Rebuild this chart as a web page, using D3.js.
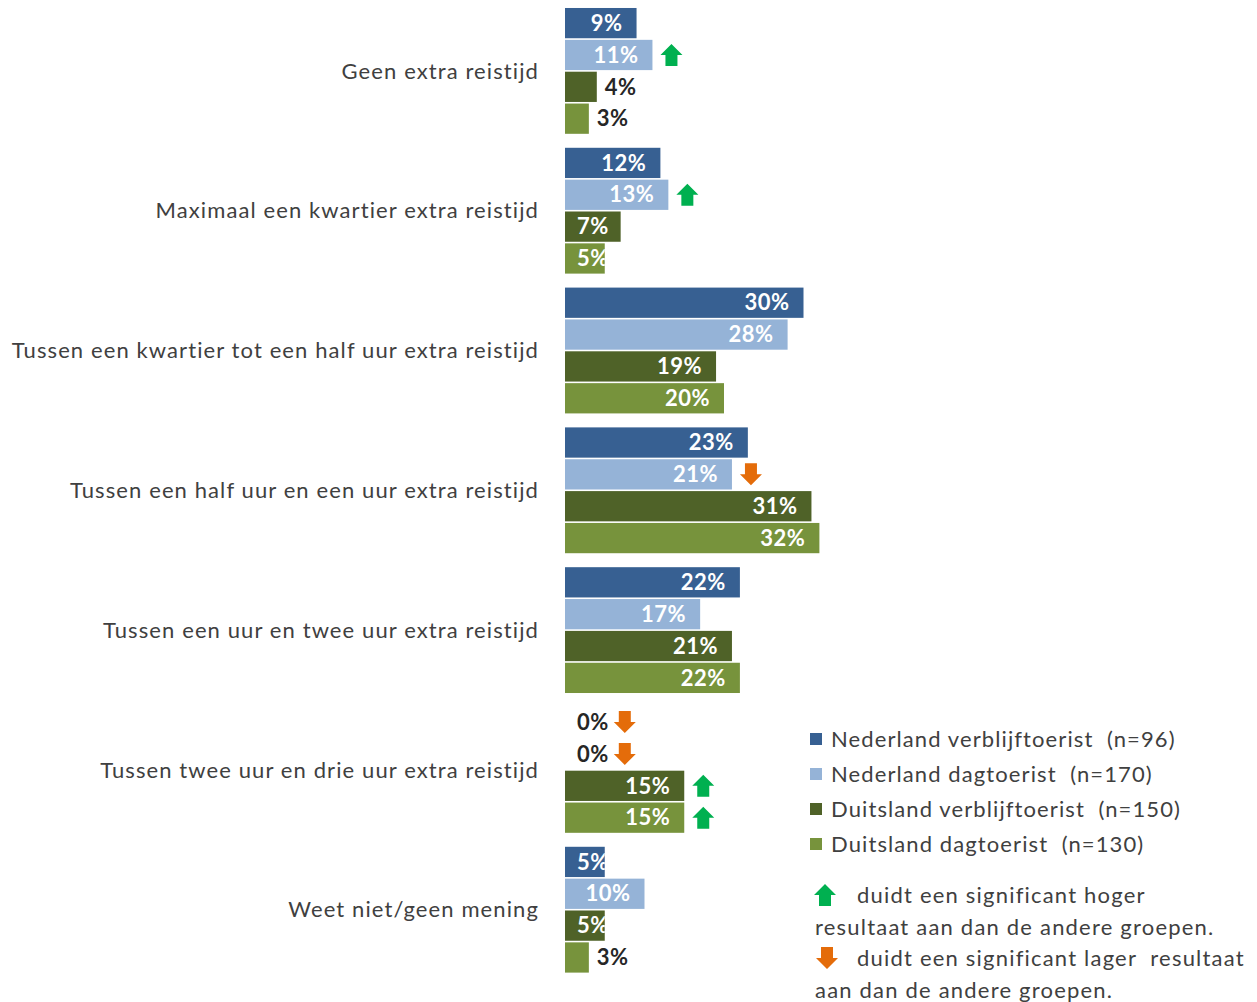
<!DOCTYPE html>
<html><head><meta charset="utf-8">
<script src="https://cdn.jsdelivr.net/npm/d3@7/dist/d3.min.js"></script>
<style>
html,body{margin:0;padding:0;background:#fff;}
svg{display:block;}
text{white-space:pre;}
</style></head>
<body><svg id="chart" width="1257" height="1002"></svg>
<script>
const categories = [
  "Geen extra reistijd",
  "Maximaal een kwartier extra reistijd",
  "Tussen een kwartier tot een half uur extra reistijd",
  "Tussen een half uur en een uur extra reistijd",
  "Tussen een uur en twee uur extra reistijd",
  "Tussen twee uur en drie uur extra reistijd",
  "Weet niet/geen mening"
];
const seriesNames = [
  "Nederland verblijftoerist  (n=96)",
  "Nederland dagtoerist  (n=170)",
  "Duitsland verblijftoerist  (n=150)",
  "Duitsland dagtoerist  (n=130)"
];
const nlVerblijf = [9, 12, 30, 23, 22, 0, 5];
const nlDag      = [11, 13, 28, 21, 17, 0, 10];
const deVerblijf = [4, 7, 19, 31, 21, 15, 5];
const deDag      = [3, 5, 20, 32, 22, 15, 3];
// significance: 1 = significantly higher, -1 = significantly lower, 0 = none
const sigNlVerblijf = [0, 0, 0, 0, 0, -1, 0];
const sigNlDag      = [1, 1, 0, -1, 0, -1, 0];
const sigDeVerblijf = [0, 0, 0, 0, 0, 1, 0];
const sigDeDag      = [0, 0, 0, 0, 0, 1, 0];
const noteLines = [
  "duidt een significant hoger",
  "resultaat aan dan de andere groepen.",
  "duidt een significant lager  resultaat",
  "aan dan de andere groepen."
];

const seriesValues = [nlVerblijf, nlDag, deVerblijf, deDag];
const seriesSig = [sigNlVerblijf, sigNlDag, sigDeVerblijf, sigDeDag];
const colors = ["#376092", "#95B3D7", "#4F6228", "#77933C"];
const UP = "#00B050", DOWN = "#E46C0A";
const FONT = "Lato, 'Open Sans', sans-serif";
const TXT = "#404040";

const svg = d3.select("#chart");
const x = d3.scaleLinear().domain([0, 35]).range([565, 565 + 35 * 7.95]);
const y0 = d3.scaleBand().domain(categories).range([1, 979.6]).paddingInner(0.1).paddingOuter(0.05);
const y1 = d3.scaleBand().domain(d3.range(4)).range([0, y0.bandwidth()]).paddingInner(0.05);

function arrowPath(cx, cy, dir) {
  const hw = 11, sw = 6;
  if (dir > 0) {
    return `M${cx},${cy-11} L${cx+hw},${cy} L${cx+sw},${cy} L${cx+sw},${cy+11} L${cx-sw},${cy+11} L${cx-sw},${cy} L${cx-hw},${cy} Z`;
  }
  return `M${cx},${cy+11} L${cx+hw},${cy} L${cx+sw},${cy} L${cx+sw},${cy-11} L${cx-sw},${cy-11} L${cx-sw},${cy} L${cx-hw},${cy} Z`;
}

const data = [];
categories.forEach((c, ci) => {
  seriesValues.forEach((arr, si) => {
    data.push({cat: c, ci, si, v: arr[ci], sig: seriesSig[si][ci]});
  });
});

// category labels
svg.append("g").selectAll("text").data(categories).join("text")
  .attr("x", 539)
  .attr("y", d => y0(d) + y0.bandwidth() / 2)
  .attr("dy", "0.35em")
  .attr("text-anchor", "end")
  .attr("font-family", FONT)
  .attr("font-size", 22)
  .attr("letter-spacing", 1.1)
  .attr("fill", TXT)
  .text(d => d);

const groups = svg.append("g").selectAll("g").data(data).join("g")
  .attr("transform", d => `translate(0,${y0(d.cat) + y1(d.si)})`);

groups.append("rect")
  .attr("x", x(0))
  .attr("y", 0)
  .attr("width", d => x(d.v) - x(0))
  .attr("height", y1.bandwidth())
  .attr("fill", d => colors[d.si]);

const clipDefs = svg.append("defs");
data.forEach((d, i) => {
  clipDefs.append("clipPath").attr("id", "clip" + i)
    .append("rect").attr("x", x(0)).attr("y", 0)
    .attr("width", x(d.v) - x(0)).attr("height", y1.bandwidth());
});

groups.each(function(d, i) {
  const g = d3.select(this);
  const cy = y1.bandwidth() / 2;
  const inside = d.v >= 5;
  const t = g.append("text")
    .attr("y", cy)
    .attr("dy", "0.35em")
    .attr("font-family", FONT)
    .attr("font-weight", "bold")
    .attr("font-size", 22)
    .attr("letter-spacing", 0.5)
    .attr("fill", inside ? "#fff" : "#262626")
    .text(d.v + "%");
  const w = t.node().getComputedTextLength();
  let labelEnd;
  if (inside) {
    const start = Math.max(x(0) + 12, x(d.v) - 14 - w);
    t.attr("x", start).attr("clip-path", `url(#clip${i})`);
    labelEnd = x(d.v);
  } else {
    const start = Math.max(x(d.v) + 8, x(0) + 12);
    t.attr("x", start);
    labelEnd = start + w;
  }
  if (d.sig !== 0) {
    g.append("path")
      .attr("d", arrowPath(labelEnd + (inside ? 19 : 16), cy, d.sig))
      .attr("fill", d.sig > 0 ? UP : DOWN);
  }
});

// legend
const legend = svg.append("g").attr("transform", "translate(810,739)");
const li = legend.selectAll("g").data(seriesNames).join("g")
  .attr("transform", (d, i) => `translate(0,${i * 35})`);
li.append("rect").attr("x", 0).attr("y", -6).attr("width", 12).attr("height", 12)
  .attr("fill", (d, i) => colors[i]);
li.append("text").attr("x", 21).attr("dy", "0.35em")
  .attr("font-family", FONT).attr("font-size", 22).attr("letter-spacing", 1.1).attr("fill", TXT)
  .text(d => d);

// note
const note = svg.append("g");
const noteX = [857, 815, 857, 815];
const noteY = [895, 927, 958, 990];
note.selectAll("text").data(noteLines).join("text")
  .attr("x", (d, i) => noteX[i]).attr("y", (d, i) => noteY[i]).attr("dy", "0.35em")
  .attr("font-family", FONT).attr("font-size", 22).attr("letter-spacing", 1.2).attr("fill", TXT)
  .text(d => d);
note.append("path").attr("d", arrowPath(825, 895, 1)).attr("fill", UP);
note.append("path").attr("d", arrowPath(827, 958, -1)).attr("fill", DOWN);
</script>
</body></html>
